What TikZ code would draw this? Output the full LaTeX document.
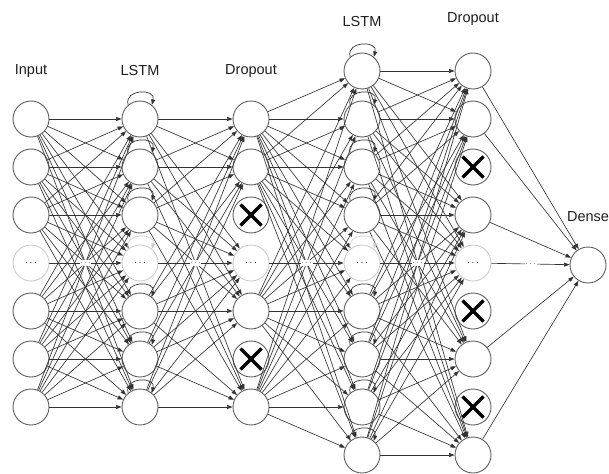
\documentclass[tikz,border=0pt]{standalone}
\usepackage{fontspec}
\setmainfont{Liberation Sans}
\usetikzlibrary{arrows.meta}
\definecolor{edgecol}{HTML}{333333}
\definecolor{ringcol}{HTML}{5E5E5E}
\definecolor{faintcol}{HTML}{CDCDCD}
\definecolor{labelcol}{HTML}{1E1E1E}
\begin{document}
\begin{tikzpicture}[x=1pt,y=-1pt,
  unit/.style={circle,draw=ringcol,line width=0.9pt,fill=white,minimum size=36pt,inner sep=0pt},
  gapunit/.style={unit,draw=faintcol,font=\fontsize{10}{10}\selectfont},
  dropped/.style={unit,path picture={
      \draw[line width=3.4pt,black]
        ([shift={(-10.5pt,-10.5pt)}]path picture bounding box.center) --
        ([shift={(10.5pt,10.5pt)}]path picture bounding box.center);
      \draw[line width=3.4pt,black]
        ([shift={(-10.5pt,10.5pt)}]path picture bounding box.center) --
        ([shift={(10.5pt,-10.5pt)}]path picture bounding box.center);}},
  link/.style={draw=edgecol,line width=0.65pt,-{Triangle[length=5.5pt,width=4pt]}},
  recur/.style={link,line width=0.7pt},
  gaplink/.style={link},
  dotsmark/.style={fill=white,inner sep=0.6pt,font=\fontsize{9}{9}\selectfont},
  layername/.style={text=labelcol,font=\fontsize{14.5}{17}\selectfont}
]
\useasboundingbox (0,0) rectangle (609,473);

% layer titles
\node[layername] (tin) at (31,71) {Input};
\node[layername] (tl1) at (140,71) {LSTM};
\node[layername] (td1) at (251,71) {Dropout};
\node[layername] (tl2) at (362,22) {LSTM};
\node[layername] (td2) at (473,19) {Dropout};
\node[layername] (tde) at (588,217) {Dense};

% input layer (slots 1..7, slot 4 is the ellipsis unit)
\foreach \i in {1,2,3,5,6,7} \node[unit] (a\i) at (31,71+48*\i) {};
\node[gapunit] (a4) at (31,263) {$\cdots$};

% first LSTM layer
\foreach \i in {1,2,3,5,6,7} \node[unit] (b\i) at (140,71+48*\i) {};
\node[gapunit] (b4) at (140,263) {$\cdots$};

% first dropout layer
\foreach \i in {1,2,5,7} \node[unit] (c\i) at (251,71+48*\i) {};
\foreach \i in {3,6} \node[dropped] (c\i) at (251,71+48*\i) {};
\node[gapunit] (c4) at (251,263) {$\cdots$};

% second LSTM layer (slots 0..8)
\foreach \i in {0,1,2,3,5,6,7,8} \node[unit] (d\i) at (362,71+48*\i) {};
\node[gapunit] (d4) at (362,263) {$\cdots$};

% second dropout layer
\foreach \i in {0,1,3,6,8} \node[unit] (e\i) at (473,71+48*\i) {};
\foreach \i in {2,5,7} \node[dropped] (e\i) at (473,71+48*\i) {};
\node[gapunit] (e4) at (473,263) {$\cdots$};

% dense output
\node[unit] (f) at (588,265) {};

% input -> LSTM
\foreach \s in {1,2,3,5,6,7}
  \foreach \t in {1,...,7}
    \draw[link] (a\s) -- (b\t);
\draw[gaplink] (a4) -- node[dotsmark] {$\cdots$} (b4);

% LSTM -> dropout
\foreach \s in {1,2,3,5,6,7}
  \foreach \t in {1,2,4,5,7}
    \draw[link] (b\s) -- (c\t);
\draw[gaplink] (b4) -- node[dotsmark] {$\cdots$} (c4);

% dropout -> LSTM
\foreach \s in {1,2,5,7}
  \foreach \t in {0,...,8}
    \draw[link] (c\s) -- (d\t);
\draw[gaplink] (c4) -- node[dotsmark] {$\cdots$} (d4);

% LSTM -> dropout
\foreach \s in {0,1,2,3,5,6,7,8}
  \foreach \t in {0,1,3,4,6,8}
    \draw[link] (d\s) -- (e\t);
\draw[gaplink] (d4) -- node[dotsmark] {$\cdots$} (e4);

% dropout -> dense
\foreach \s in {0,1,3,6,8}
  \draw[link] (e\s) -- (f);
\draw[gaplink] (e4) -- node[dotsmark] {$\cdots$} (f);

% recurrent self-loops (y axis points down, so upward is a negative angle)
\foreach \i in {1,2,3,5,6,7}
  \draw[recur] (b\i.130) .. controls +(-105:17) and +(-75:17) .. (b\i.50);
\draw[recur,draw=faintcol] (b4.130) .. controls +(-105:17) and +(-75:17) .. (b4.50);
\foreach \i in {0,1,2,3,5,6,7,8}
  \draw[recur] (d\i.130) .. controls +(-105:17) and +(-75:17) .. (d\i.50);
\draw[recur,draw=faintcol] (d4.130) .. controls +(-105:17) and +(-75:17) .. (d4.50);
\end{tikzpicture}
\end{document}
